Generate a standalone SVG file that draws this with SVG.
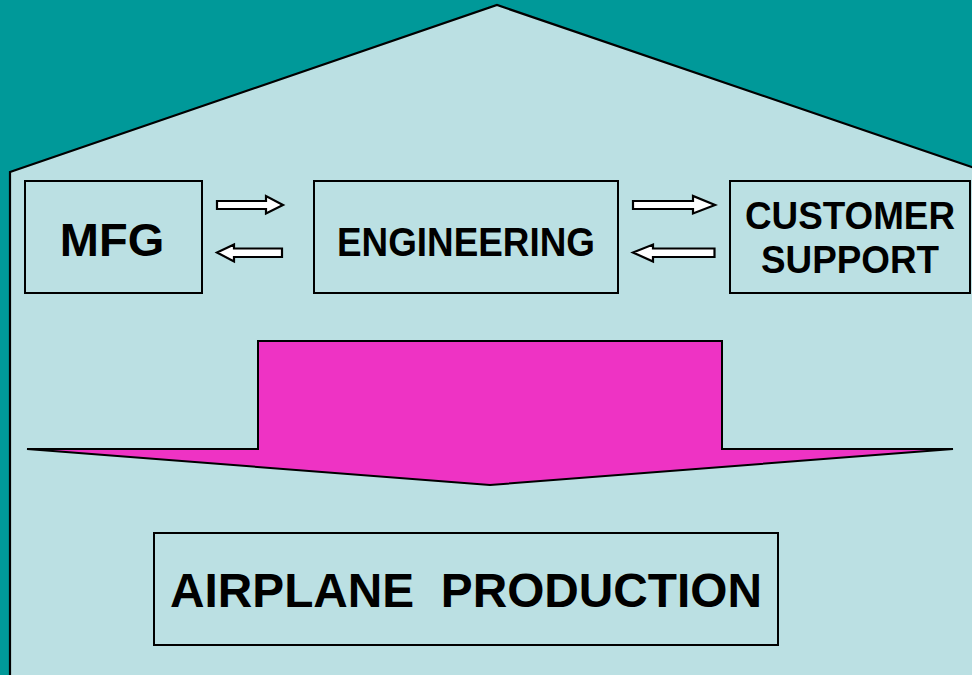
<svg xmlns="http://www.w3.org/2000/svg" width="972" height="675" viewBox="0 0 972 675">
<style>
.box{fill:none;stroke:#000;stroke-width:2}
.arr{fill:#fff;stroke:#000;stroke-width:2.2;stroke-linejoin:miter}
.t{font-family:"Liberation Sans",Arial,sans-serif;font-weight:bold;fill:#000;text-anchor:middle}
</style>
<rect width="972" height="675" fill="#009999"/>
<path d="M10,680 L10,172 L497,5 L976,168.5 L976,680 Z" fill="#bbe0e3" stroke="#000" stroke-width="2.2"/>
<g id="connectors">
<path class="arr" d="M217,201 L266,201 L266,196 L283,205 L266,213.5 L266,209 L217,209 Z"/>
<path class="arr" d="M282,248.5 L234,248.5 L234,244.5 L217,252.5 L234,261.5 L234,257 L282,257 Z"/>
<path class="arr" d="M633,201 L693,201 L693,196 L715,205 L693,213.5 L693,209 L633,209 Z"/>
<path class="arr" d="M714.5,248.5 L653,248.5 L653,244.5 L633,252.5 L653,261.5 L653,257 L714.5,257 Z"/>
</g>
<g id="big-arrow">
<path d="M258,341 L722,341 L722,449 L953,449 L490,485 L27,449 L258,449 Z" fill="#ee33c4" stroke="#000" stroke-width="2"/>
</g>
<g id="mfg">
<rect class="box" x="25" y="181" width="177" height="112"/>
<text class="t" x="112" y="256" font-size="47">MFG</text>
</g>
<g id="engineering">
<rect class="box" x="314" y="181" width="304" height="112"/>
<text class="t" x="466" y="256" font-size="40" textLength="258" lengthAdjust="spacingAndGlyphs">ENGINEERING</text>
</g>
<g id="customer-support">
<rect class="box" x="730" y="181" width="240" height="112"/>
<text class="t" x="850" y="229" font-size="38" textLength="210" lengthAdjust="spacingAndGlyphs">CUSTOMER</text>
<text class="t" x="850" y="273" font-size="38" textLength="178" lengthAdjust="spacingAndGlyphs">SUPPORT</text>
</g>
<g id="airplane-production">
<rect class="box" x="154" y="533" width="624" height="112"/>
<text class="t" x="466" y="607" font-size="48" textLength="592" lengthAdjust="spacingAndGlyphs" xml:space="preserve">AIRPLANE  PRODUCTION</text>
</g>
</svg>
